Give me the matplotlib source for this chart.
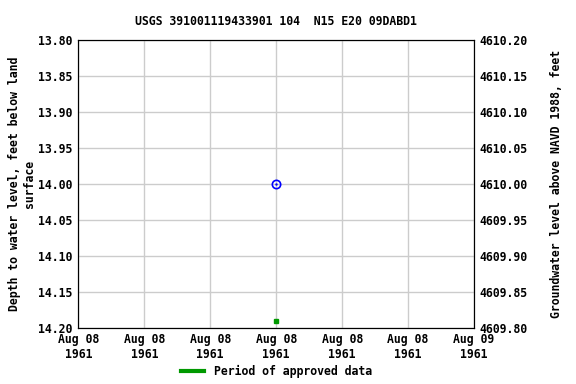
import numpy as np
import matplotlib
matplotlib.use('Agg')
import matplotlib.pyplot as plt
import matplotlib.dates as mdates
from datetime import datetime

plt.rcParams['font.family'] = 'DejaVu Sans Mono'
plt.rcParams['font.size'] = 8.3

# measurement
dates = [datetime(1961, 8, 8, 12, 0)]
depth = [14.00]
# approved-period marker
approved_dates = [datetime(1961, 8, 8, 12, 0)]
approved_y = [14.19]
datum = 4624.00

title = 'USGS 391001119433901 104  N15 E20 09DABD1'

fig = plt.figure(figsize=(5.76, 3.84), dpi=100)
ax = fig.add_axes([0.136, 0.146, 0.687, 0.75])

ax.plot(dates, depth, 'o', mfc='none', mec='#0000ff', ms=6, mew=1.2)
ax.plot(dates, depth, '.', color='#0000ff', ms=1.5)
ax.plot(approved_dates, approved_y, 's', color='#009900', ms=3)

ax.set_xlim(datetime(1961, 8, 8, 0), datetime(1961, 8, 9, 0))
ax.set_ylim(14.20, 13.80)
ax.set_yticks(np.arange(13.80, 14.201, 0.05))
ax.yaxis.set_major_formatter(plt.FormatStrFormatter('%.2f'))
ax.xaxis.set_major_locator(mdates.HourLocator(byhour=[0, 4, 8, 12, 16, 20]))
ax.xaxis.set_major_formatter(mdates.DateFormatter('%b %d\n%Y'))
ax.grid(True, color='#cccccc', linewidth=1)
ax.set_axisbelow(True)
ax.tick_params(length=0, pad=4)
for lbl in ax.get_xticklabels() + ax.get_yticklabels():
    lbl.set_fontweight('bold')
ax.set_ylabel('Depth to water level, feet below land\nsurface', fontweight='bold', labelpad=2)
ax.set_title(title, fontweight='bold', fontsize=8.3, pad=11)

ax2 = ax.twinx()
ax2.set_ylim(datum - 14.20, datum - 13.80)
ax2.set_yticks(np.arange(4609.80, 4610.201, 0.05))
ax2.yaxis.set_major_formatter(plt.FormatStrFormatter('%.2f'))
ax2.tick_params(length=0, pad=4)
for lbl in ax2.get_yticklabels():
    lbl.set_fontweight('bold')
ax2.set_ylabel('Groundwater level above NAVD 1988, feet', fontweight='bold', labelpad=16)

leg_line, = ax.plot([], [], color='#009900', linewidth=3, label='Period of approved data')
fig.legend(handles=[leg_line], loc='lower center', bbox_to_anchor=(0.48, -0.012),
           frameon=False, prop={'weight': 'bold', 'size': 8.3}, handlelength=2)

fig.savefig('out.png', dpi=100)
